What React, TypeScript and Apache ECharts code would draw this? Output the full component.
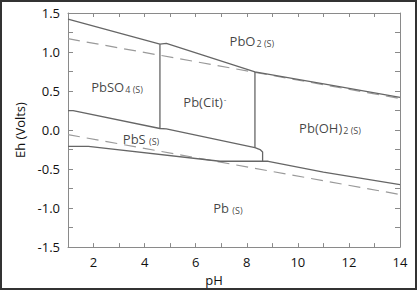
import React, { useEffect, useRef } from "react";
import * as echarts from "echarts";

// Water stability limits (dashed)
const waterUpper: number[][] = [[1, 1.171], [14, 0.404]];
const waterLower: number[][] = [[1, -0.059], [14, -0.826]];

// Phase boundaries (solid)
const pbo2Boundary: number[][] = [[1, 1.42], [4.6, 1.10], [4.85, 1.11], [8.32, 0.745], [11.4, 0.569], [14, 0.42]];
const pbso4CitBoundary: number[][] = [[4.6, 1.10], [4.6, 0.02]];
const pbsUpperBoundary: number[][] = [[1, 0.25], [1.2, 0.25], [4.6, 0.02], [4.85, 0.015], [8.32, -0.225], [8.52, -0.25], [8.62, -0.28], [8.62, -0.40]];
const citOhBoundary: number[][] = [[8.32, 0.745], [8.32, -0.225]];
const pbLowerBoundary: number[][] = [[1, -0.21], [1.8, -0.21], [6.95, -0.40], [8.84, -0.40], [11, -0.54], [14, -0.70]];

// Region labels
const regionNames: string[] = [
  "{m|PbO}{s|2 (S)}",
  "{m|PbSO}{s|4 (S)}",
  "{m|Pb(Cit)}{sup|-}",
  "{m|Pb(OH)}{s|2 (S)}",
  "{m|PbS}{s| (S)}",
  "{m|Pb}{s| (S)}",
];
const regionPositions: number[][] = [
  [8.2, 1.14],
  [2.92, 0.55],
  [6.36, 0.36],
  [11.26, 0.02],
  [3.86, -0.12],
  [7.26, -1.0],
];

const xTicks = { min: 1, max: 14, interval: 1 };
const yTicks = { min: -1.5, max: 1.5, interval: 0.25 };

export default function App() {
  const ref = useRef<HTMLDivElement>(null);
  useEffect(() => {
    if (!ref.current) return;
    const chart = echarts.init(ref.current, undefined, { renderer: "svg" });
    const font = "'Open Sans', 'Liberation Sans', sans-serif";
    const axisColor = "#8a8a8a";
    const solid = { color: "#666", width: 1.3 };
    const dashed = { color: "#9a9a9a", width: 1.2, type: [12, 7] as any };
    const lineSeries = (data: number[][], style: any) => ({
      type: "line",
      data,
      symbol: "none",
      lineStyle: style,
      silent: true,
      xAxisIndex: 0,
      yAxisIndex: 0,
    });
    const rich = {
      m: { fontSize: 13, color: "#111", fontFamily: font },
      s: { fontSize: 9, color: "#111", fontFamily: font, verticalAlign: "bottom", padding: [4, 0, 0, 1] },
      sup: { fontSize: 8, color: "#111", fontFamily: font, verticalAlign: "top", padding: [0, 0, 6, 1] },
    };
    const axisLine = { show: true, onZero: false, lineStyle: { color: axisColor, width: 1 } };
    chart.setOption({
      animation: false,
      backgroundColor: "#ffffff",
      grid: { left: 68, right: 17, top: 13, bottom: 34 },
      graphic: [
        {
          type: "rect",
          shape: { x: 1, y: 1, width: 415, height: 288 },
          style: { fill: "none", stroke: "#333", lineWidth: 2 },
          silent: true,
        },
      ],
      xAxis: [
        {
          type: "value",
          ...xTicks,
          name: "pH",
          nameLocation: "middle",
          nameGap: 21,
          nameTextStyle: { fontSize: 13, color: "#111", fontFamily: font, padding: [0, 40, 0, 0] },
          axisLine,
          axisTick: { show: true, inside: true, length: 4, lineStyle: { color: axisColor } },
          axisLabel: {
            fontSize: 13,
            color: "#111",
            fontFamily: font,
            margin: 8,
            formatter: (v: number) => (Math.round(v) % 2 === 0 ? String(Math.round(v)) : ""),
          },
          splitLine: { show: false },
        },
        {
          type: "value",
          ...xTicks,
          position: "top",
          axisLine,
          axisTick: { show: true, inside: true, length: 4, lineStyle: { color: axisColor } },
          axisLabel: { show: false },
          splitLine: { show: false },
        },
      ],
      yAxis: [
        {
          type: "value",
          ...yTicks,
          name: "Eh (Volts)",
          nameLocation: "middle",
          nameGap: 40,
          nameTextStyle: { fontSize: 13, color: "#111", fontFamily: font },
          axisLine,
          axisTick: { show: true, inside: true, length: 5, lineStyle: { color: axisColor } },
          axisLabel: {
            fontSize: 13,
            color: "#111",
            fontFamily: font,
            margin: 8,
            formatter: (v: number) => (Math.abs(Math.round(v * 4)) % 2 === 0 ? v.toFixed(1) : ""),
          },
          splitLine: { show: false },
        },
        {
          type: "value",
          ...yTicks,
          position: "right",
          axisLine,
          axisTick: { show: true, inside: true, length: 5, lineStyle: { color: axisColor } },
          axisLabel: { show: false },
          splitLine: { show: false },
        },
      ],
      series: [
        lineSeries(waterUpper, dashed),
        lineSeries(waterLower, dashed),
        lineSeries(pbo2Boundary, solid),
        lineSeries(pbso4CitBoundary, solid),
        lineSeries(pbsUpperBoundary, solid),
        lineSeries(citOhBoundary, solid),
        lineSeries(pbLowerBoundary, solid),
        {
          type: "scatter",
          symbolSize: 0,
          silent: true,
          data: regionPositions.map((p, i) => ({ value: p, name: regionNames[i] })),
          label: {
            show: true,
            position: "inside",
            formatter: (p: any) => p.name,
            rich,
          },
        },
      ],
    });
    return () => chart.dispose();
  }, []);
  return (
    <div
      ref={ref}
      style={{ position: "absolute", left: 0, top: 0, width: 417, height: 291, background: "#fff" }}
    />
  );
}
